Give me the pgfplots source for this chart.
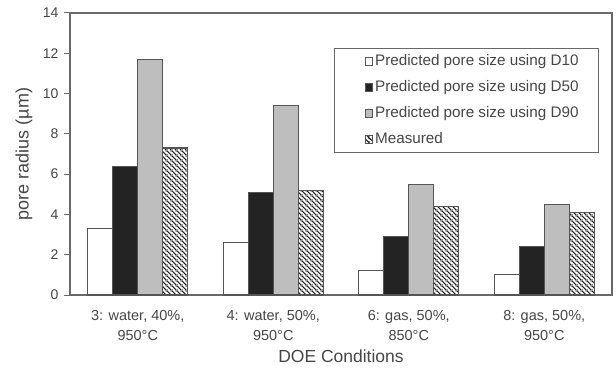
\documentclass[border=0pt]{standalone}
\usepackage{pgfplots}
\pgfplotsset{compat=1.18}
\usetikzlibrary{patterns}
\usepackage{fontspec}
\setmainfont{Liberation Sans}
\definecolor{axgray}{RGB}{105,105,105}
\definecolor{txtgray}{RGB}{70,70,70}
\definecolor{bardark}{RGB}{35,35,35}
\definecolor{barlight}{RGB}{190,190,190}
\definecolor{edge}{RGB}{85,85,85}
\pgfdeclarepatternformonly{hatchnw}{\pgfqpoint{0pt}{0pt}}{\pgfqpoint{4.5pt}{4.5pt}}{\pgfqpoint{4.5pt}{4.5pt}}{%
  \pgfsetlinewidth{1.2pt}%
  \pgfpathmoveto{\pgfqpoint{-0.5pt}{5pt}}\pgfpathlineto{\pgfqpoint{5pt}{-0.5pt}}%
  \pgfpathmoveto{\pgfqpoint{-0.5pt}{0.5pt}}\pgfpathlineto{\pgfqpoint{0.5pt}{-0.5pt}}%
  \pgfpathmoveto{\pgfqpoint{4pt}{5pt}}\pgfpathlineto{\pgfqpoint{5pt}{4pt}}%
  \pgfusepath{stroke}}
\begin{document}
\begin{tikzpicture}[x=1pt,y=1pt]
\useasboundingbox (-70,-72) rectangle (546,295);
\begin{axis}[
  at={(0,0)}, anchor=south west,
  scale only axis, width=542pt, height=282pt,
  xmin=-0.5, xmax=3.5, ymin=0, ymax=14,
  ytick={0,2,...,14},
  xtick={0,1,2,3},
  ytick pos=left,
  xticklabels={{3: water, 40\%,\\950°C},{4: water, 50\%,\\950°C},{6: gas, 50\%,\\850°C},{8: gas, 50\%,\\950°C}},
  x tick label style={align=center, font=\fontsize{14.5}{19.5}\selectfont, text=txtgray, yshift=-6pt},
  y tick label style={font=\fontsize{14}{16}\selectfont, text=txtgray, xshift=-2pt},
  /pgf/number format/assume math mode=true,
  major x tick style={draw=none},
  tick align=outside,
  major tick length=6pt,
  y tick style={axgray, line width=1pt},
  axis line style={axgray, line width=1.1pt},
  ylabel={pore radius (µm)},
  xlabel={DOE Conditions},
  ylabel style={font=\fontsize{18}{20}\selectfont, text=txtgray, at={(axis description cs:-0.085,0.5)}, anchor=center},
  xlabel style={font=\fontsize{17.5}{20}\selectfont, text=txtgray, at={(axis description cs:0.5,-0.2376)}, anchor=base},
  ybar=0pt, bar width=25pt,
  legend cell align=left,
  legend style={at={(0.976,0.875)}, anchor=north east, draw=axgray, line width=0.9pt,
     inner xsep=18pt, inner ysep=2pt, row sep=4pt,
     nodes={font=\fontsize{15.25}{17}\selectfont, text=txtgray, inner ysep=4pt, inner xsep=2pt, text height=11pt, text depth=3pt}},
  legend image code/.code={\path (-12pt,0pt); \draw[#1, line width=0.7pt] (0pt,-3.5pt) rectangle (7.5pt,4pt);},
]
\addplot[draw=edge, line width=1.1pt, fill=white] coordinates {(0,3.3) (1,2.6) (2,1.2) (3,1.0)};
\addplot[draw=edge, line width=1.1pt, fill=bardark] coordinates {(0,6.4) (1,5.1) (2,2.9) (3,2.4)};
\addplot[draw=edge, line width=1.1pt, fill=barlight] coordinates {(0,11.7) (1,9.4) (2,5.5) (3,4.5)};
\addplot[draw=edge, line width=1.1pt, fill=white, postaction={pattern=hatchnw, pattern color=bardark}] coordinates {(0,7.3) (1,5.2) (2,4.4) (3,4.1)};
\legend{Predicted pore size using D10, Predicted pore size using D50, Predicted pore size using D90, Measured}
\end{axis}
\end{tikzpicture}
\end{document}
